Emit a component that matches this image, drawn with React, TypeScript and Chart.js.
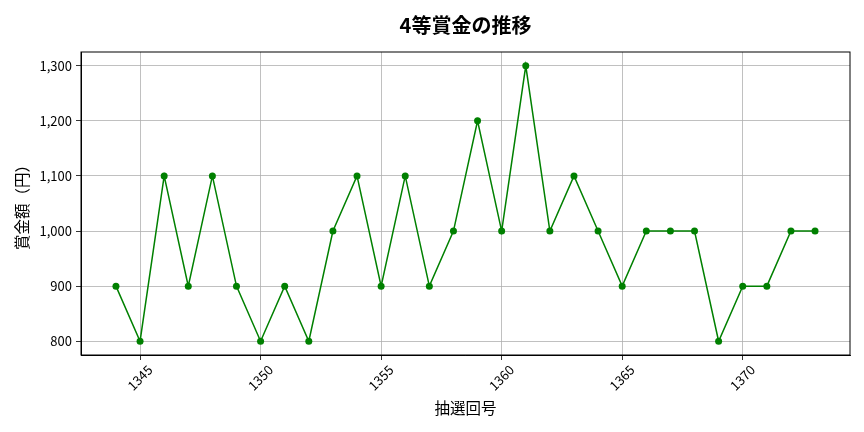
import { useEffect, useRef } from 'react';
import { Chart, registerables } from 'chart.js';

Chart.register(...registerables);

const drawNumbers = [
  1344, 1345, 1346, 1347, 1348, 1349, 1350, 1351, 1352, 1353,
  1354, 1355, 1356, 1357, 1358, 1359, 1360, 1361, 1362, 1363,
  1364, 1365, 1366, 1367, 1368, 1369, 1370, 1371, 1372, 1373,
];
const prizes = [
  900, 800, 1100, 900, 1100, 900, 800, 900, 800, 1000,
  1100, 900, 1100, 900, 1000, 1200, 1000, 1300, 1000, 1100,
  1000, 900, 1000, 1000, 1000, 800, 900, 900, 1000, 1000,
];
const xTicks = [1345, 1350, 1355, 1360, 1365, 1370];
const yTicks = [800, 900, 1000, 1100, 1200, 1300];
const titleText = '4等賞金の推移';

const FONT = '"Noto Sans CJK JP", "Noto Sans", sans-serif';

// box around the plot area (matplotlib spines) and a title centred over it
const frame = {
  id: 'frame',
  afterDatasetsDraw(chart: Chart) {
    const { ctx, chartArea } = chart;
    ctx.save();
    ctx.strokeStyle = '#000';
    ctx.lineWidth = 1;
    ctx.strokeRect(chartArea.left, chartArea.top, chartArea.right - chartArea.left, chartArea.bottom - chartArea.top);
    ctx.fillStyle = '#000';
    ctx.font = `bold 20px ${FONT}`;
    ctx.textAlign = 'center';
    ctx.textBaseline = 'middle';
    ctx.fillText(titleText, (chartArea.left + chartArea.right) / 2, 25);
    ctx.restore();
  },
};

export default function App() {
  const canvasRef = useRef<HTMLCanvasElement>(null);

  useEffect(() => {
    if (!canvasRef.current) return;
    const chart = new Chart(canvasRef.current, {
      type: 'line',
      data: {
        datasets: [
          {
            data: drawNumbers.map((x, i) => ({ x, y: prizes[i] })),
            borderColor: '#008000',
            backgroundColor: '#008000',
            borderWidth: 1.5,
            pointRadius: 3.5,
            pointBackgroundColor: '#008000',
            pointBorderWidth: 0,
            tension: 0,
          },
        ],
      },
      options: {
        animation: false,
        responsive: false,
        layout: { padding: { left: 0, right: 14, top: 52, bottom: 0 } },
        plugins: {
          legend: { display: false },
          tooltip: { enabled: false },
          title: { display: false },
        },
        scales: {
          x: {
            type: 'linear',
            min: 1342.55,
            max: 1374.45,
            afterBuildTicks: (scale: any) => {
              scale.ticks = xTicks.map((value) => ({ value }));
            },
            afterFit: (scale: any) => {
              scale.height = 77;
            },
            ticks: {
              color: '#000',
              font: { family: FONT, size: 13 },
              minRotation: 45,
              maxRotation: 45,
              padding: 2,
              labelOffset: 10,
              callback: (v: any) => String(v),
            },
            grid: { color: '#b0b0b0', lineWidth: 0.8, tickLength: 5, tickColor: '#000' },
            border: { color: '#000' },
            title: {
              display: true,
              text: '抽選回号',
              color: '#000',
              font: { family: FONT, size: 15.5 },
              padding: { bottom: 15 },
            },
          },
          y: {
            min: 775,
            max: 1325,
            afterBuildTicks: (scale: any) => {
              scale.ticks = yTicks.map((value) => ({ value }));
            },
            afterFit: (scale: any) => {
              scale.width = 81;
            },
            ticks: {
              color: '#000',
              font: { family: FONT, size: 13 },
              padding: 4,
              callback: (v: any) => Number(v).toLocaleString('en-US'),
            },
            grid: { color: '#b0b0b0', lineWidth: 0.8, tickLength: 5, tickColor: '#000' },
            border: { color: '#000' },
            title: {
              display: true,
              text: '賞金額（円）',
              color: '#000',
              font: { family: FONT, size: 15.5 },
              padding: { top: 13 },
            },
          },
        },
      },
      plugins: [frame],
    });
    return () => chart.destroy();
  }, []);

  return (
    <div style={{ position: 'fixed', left: 0, top: 0, width: 864, height: 432, background: '#fff' }}>
      <canvas ref={canvasRef} width={864} height={432} />
    </div>
  );
}
